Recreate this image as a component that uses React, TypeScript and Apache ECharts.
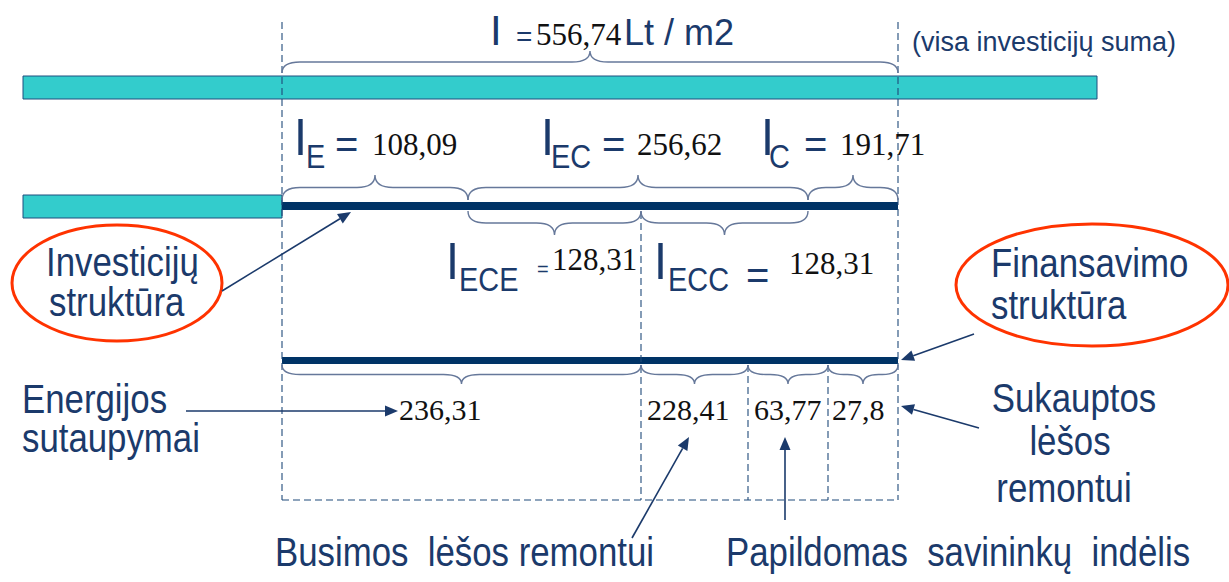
import React, { useEffect, useRef } from "react";
import * as echarts from "echarts";

// ---------------- data ----------------
const totalInvestment = 556.74;
const totalUnit = "Lt / m2";
const totalNote = "(visa investicijų suma)";
const investmentKeys = ["E", "EC", "C"];
const investmentValues = [108.09, 256.62, 191.71];
const ecKeys = ["ECE", "ECC"];
const ecValues = [128.31, 128.31];
const financingValues = [236.31, 228.41, 63.77, 27.8];
const investmentStructureLabel = ["Investicijų", "struktūra"];
const financingStructureLabel = ["Finansavimo", "struktūra"];
const savingsLabel = ["Energijos", "sutaupymai"];
const accumulatedLabel = ["Sukauptos", "lėšos", "remontui"];
const futureFundsLabel = "Busimos  lėšos remontui";
const ownersLabel = "Papildomas  savininkų  indėlis";

// ---------------- layout (diagram units = page pixels) ----------------
const W = 1229;
const H = 582;
const investBounds = [282, 468, 808, 898];
const ecBounds = [468, 641, 808];
const finBounds = [282, 641, 748, 828, 898];
const cyanBars = [
  [23, 76, 1097, 99],
  [23, 195, 282, 218],
];
const navyBars = [
  [282, 202, 898, 210],
  [282, 357, 898, 364],
];
const guides = [
  [282, 22, 282, 500],
  [898, 22, 898, 500],
  [641, 212, 641, 500],
  [748, 365, 748, 500],
  [828, 365, 828, 500],
  [282, 500, 898, 500],
];
const ovals = [
  [117, 283, 105, 58],
  [1092, 285, 136, 61],
];
const arrows = [
  [222, 291, 351, 212],
  [974, 334, 901, 360],
  [186, 411, 398, 411],
  [979, 428, 901, 406],
  [632, 538, 689, 437],
  [785, 520, 785, 437],
];

const SANS = '"Liberation Sans", Arial, sans-serif';
const SERIF = '"Liberation Serif", "Times New Roman", serif';
const NAVY = "#1B3A6B";
const INK = "#111111";
const CYAN = "#33CCCC";
const BAR_EDGE = "#1F4F7F";
const LINE_NAVY = "#003366";
const BRACE = "#66789A";
const GUIDE = "#1F4A7A";
const RED = "#FF3300";

const fmt = (v: number) => String(v).replace(".", ",");

type Piece = { t: string; x: number; y: number; f: "s" | "r"; s: number; c: string; sx: number; a: "left" | "center" };
const pieces: Piece[] = [];
const add = (t: string, x: number, y: number, f: "s" | "r", s: number, c: string, sx = 1, a: "left" | "center" = "left") =>
  pieces.push({ t, x, y, f, s, c, sx, a });

// title
add("I", 490, 45, "s", 42, NAVY);
add("=", 516, 46, "s", 28, NAVY);
add(fmt(totalInvestment), 536, 45, "r", 31, INK);
add(totalUnit, 624, 45, "s", 36, NAVY);
add(totalNote, 912, 51, "s", 27, NAVY);

// investment structure formulas
const investLayout = [
  [294, 306, 335, 372],
  [541, 551, 602, 637],
  [761, 769, 804, 840],
];
investmentKeys.forEach((k, i) => {
  const [xi, xs, xe, xn] = investLayout[i];
  add("I", xi, 155, "s", 52, NAVY, 0.9);
  add(k, xs, 168, "s", 34, NAVY, 0.85);
  add("=", xe, 158, "s", 40, NAVY);
  add(fmt(investmentValues[i]), xn, 155, "r", 31, INK);
});

// EC split formulas
const ecLayout = [
  { x: [446, 459, 537, 552], eqS: 20, eqY: 276, numY: 270 },
  { x: [654, 668, 746, 789], eqS: 40, eqY: 289, numY: 274 },
];
ecKeys.forEach((k, i) => {
  const L = ecLayout[i];
  add("I", L.x[0], 279, "s", 52, NAVY, 0.9);
  add(k, L.x[1], 291, "s", 34, NAVY, 0.85);
  add("=", L.x[2], L.eqY, "s", L.eqS, NAVY);
  add(fmt(ecValues[i]), L.x[3], L.numY, "r", 31, INK);
});

// financing values
const finLabelX = [399, 647, 754, 832];
financingValues.forEach((v, i) => add(fmt(v), finLabelX[i], 420, "r", 30, INK));

// descriptive texts
const DS = 40;
const DX = 0.87;
add(investmentStructureLabel[0], 46, 276, "s", DS, NAVY, DX);
add(investmentStructureLabel[1], 49, 316, "s", DS, NAVY, DX);
add(financingStructureLabel[0], 991, 277, "s", DS, NAVY, DX);
add(financingStructureLabel[1], 991, 319, "s", DS, NAVY, DX);
add(savingsLabel[0], 22, 413, "s", DS, NAVY, DX);
add(savingsLabel[1], 22, 452, "s", DS, NAVY, DX);
add(accumulatedLabel[0], 1074, 412, "s", DS, NAVY, DX, "center");
add(accumulatedLabel[1], 1070, 455, "s", DS, NAVY, DX, "center");
add(accumulatedLabel[2], 1064, 502, "s", DS, NAVY, DX, "center");
add(futureFundsLabel, 275, 566, "s", DS, NAVY, DX);
add(ownersLabel, 726, 566, "s", DS, NAVY, DX);

// braces: [x1, x2, yEnd, yTip]
const braces: number[][] = [];
braces.push([investBounds[0], investBounds[investBounds.length - 1], 73, 51]);
for (let i = 0; i < investBounds.length - 1; i++) braces.push([investBounds[i], investBounds[i + 1], 200, 175]);
for (let i = 0; i < ecBounds.length - 1; i++) braces.push([ecBounds[i], ecBounds[i + 1], 211, 235]);
for (let i = 0; i < finBounds.length - 1; i++) braces.push([finBounds[i], finBounds[i + 1], 365, 384]);

const option: any = {
  animation: false,
  backgroundColor: "#ffffff",
  grid: { left: 0, right: 0, top: 0, bottom: 0 },
  xAxis: { type: "value", min: 0, max: W, show: false },
  yAxis: { type: "value", min: 0, max: H, inverse: true, show: false },
  series: [
    {
      type: "custom",
      name: "cyan",
      silent: true,
      clip: false,
      data: cyanBars,
      renderItem: (_p: any, api: any) => {
        const a = api.coord([api.value(0), api.value(1)]);
        const b = api.coord([api.value(2), api.value(3)]);
        return {
          type: "rect",
          shape: { x: a[0], y: a[1], width: b[0] - a[0], height: b[1] - a[1] },
          style: { fill: CYAN, stroke: BAR_EDGE, lineWidth: 1 },
        };
      },
    },
    {
      type: "custom",
      name: "navy",
      silent: true,
      clip: false,
      data: navyBars,
      renderItem: (_p: any, api: any) => {
        const a = api.coord([api.value(0), api.value(1)]);
        const b = api.coord([api.value(2), api.value(3)]);
        return {
          type: "rect",
          shape: { x: a[0], y: a[1], width: b[0] - a[0], height: b[1] - a[1] },
          style: { fill: LINE_NAVY },
        };
      },
    },
    {
      type: "custom",
      name: "guides",
      silent: true,
      clip: false,
      data: guides,
      renderItem: (_p: any, api: any) => {
        const a = api.coord([api.value(0), api.value(1)]);
        const b = api.coord([api.value(2), api.value(3)]);
        return {
          type: "line",
          shape: { x1: a[0], y1: a[1], x2: b[0], y2: b[1] },
          style: { stroke: GUIDE, lineWidth: 1.1, lineDash: [7, 4] },
        };
      },
    },
    {
      type: "custom",
      name: "braces",
      silent: true,
      clip: false,
      data: braces,
      renderItem: (_p: any, api: any) => {
        const x1 = api.value(0), x2 = api.value(1), yE = api.value(2), yT = api.value(3);
        const tip = (x1 + x2) / 2;
        const ym = (yE + yT) / 2;
        const r = Math.min(18, (x2 - x1) / 4.5);
        const c = (x: number, y: number) => {
          const p = api.coord([x, y]);
          return p[0].toFixed(1) + "," + p[1].toFixed(1);
        };
        const d =
          `M${c(x1, yE)} Q${c(x1, ym)} ${c(x1 + r, ym)} L${c(tip - r, ym)} Q${c(tip, ym)} ${c(tip, yT)} ` +
          `Q${c(tip, ym)} ${c(tip + r, ym)} L${c(x2 - r, ym)} Q${c(x2, ym)} ${c(x2, yE)}`;
        return {
          type: "path",
          shape: { pathData: d },
          style: { fill: "none", stroke: BRACE, lineWidth: 1.4 },
        };
      },
    },
    {
      type: "custom",
      name: "ovals",
      silent: true,
      clip: false,
      data: ovals,
      renderItem: (_p: any, api: any) => {
        const c = api.coord([api.value(0), api.value(1)]);
        const e = api.coord([api.value(0) + api.value(2), api.value(1) + api.value(3)]);
        return {
          type: "ellipse",
          shape: { cx: c[0], cy: c[1], rx: e[0] - c[0], ry: e[1] - c[1] },
          style: { fill: "none", stroke: RED, lineWidth: 3 },
        };
      },
    },
    {
      type: "custom",
      name: "arrows",
      silent: true,
      clip: false,
      data: arrows,
      renderItem: (_p: any, api: any) => {
        const a = api.coord([api.value(0), api.value(1)]);
        const b = api.coord([api.value(2), api.value(3)]);
        const dx = b[0] - a[0], dy = b[1] - a[1];
        const len = Math.sqrt(dx * dx + dy * dy);
        const ux = dx / len, uy = dy / len;
        const hl = 13, hw = 5.5;
        const bx = b[0] - ux * hl, by = b[1] - uy * hl;
        const nx = -uy, ny = ux;
        return {
          type: "group",
          children: [
            {
              type: "line",
              shape: { x1: a[0], y1: a[1], x2: bx, y2: by },
              style: { stroke: NAVY, lineWidth: 1.6 },
            },
            {
              type: "polygon",
              shape: { points: [[b[0], b[1]], [bx + nx * hw, by + ny * hw], [bx - nx * hw, by - ny * hw]] },
              style: { fill: NAVY },
            },
          ],
        };
      },
    },
    {
      type: "custom",
      name: "labels",
      silent: true,
      clip: false,
      data: pieces.map((p) => [p.x, p.y]),
      renderItem: (params: any, api: any) => {
        const p = pieces[params.dataIndex];
        const pt = api.coord([p.x, p.y]);
        const ratio = p.f === "s" ? 0.3465 : 0.3375;
        return {
          type: "text",
          x: pt[0],
          y: pt[1] - ratio * p.s,
          scaleX: p.sx,
          style: {
            text: p.t,
            x: 0,
            y: 0,
            fill: p.c,
            font: `${p.s}px ${p.f === "s" ? SANS : SERIF}`,
            align: p.a,
            verticalAlign: "middle",
            textAlign: p.a,
            textVerticalAlign: "middle",
          },
        };
      },
    },
  ],
};

export default function App() {
  const ref = useRef<HTMLDivElement>(null);
  useEffect(() => {
    document.body.style.margin = "0";
    const chart = echarts.init(ref.current!, undefined, { renderer: "svg" });
    chart.setOption(option);
    return () => chart.dispose();
  }, []);
  return <div ref={ref} style={{ width: W, height: H }} />;
}
